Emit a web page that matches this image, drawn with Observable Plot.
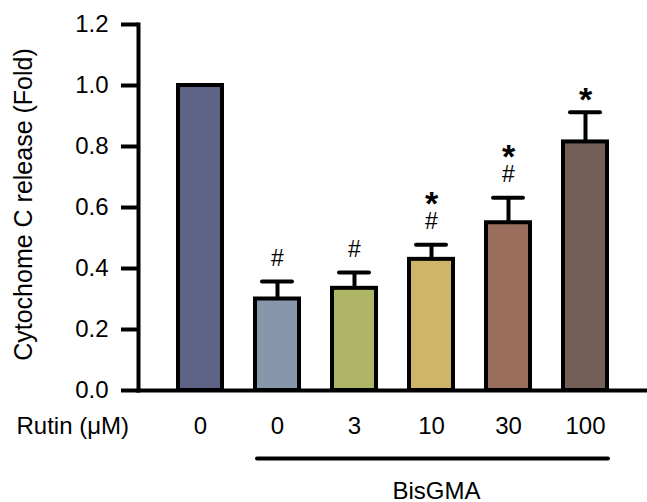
<!DOCTYPE html>
<html><head><meta charset="utf-8">
<script src="https://cdn.jsdelivr.net/npm/d3@7"></script>
<script src="https://cdn.jsdelivr.net/npm/@observablehq/plot@0.6"></script>
<style>html,body{margin:0;padding:0;background:#fff} svg{display:block}</style>
</head><body><div id="chart"></div>
<script>
const groups = ["ctrl", "b0", "b3", "b10", "b30", "b100"];
const rutinLabels = ["0", "0", "3", "10", "30", "100"];
const values = [1.0, 0.30, 0.335, 0.43, 0.55, 0.815];
const errors = [0, 0.057, 0.052, 0.048, 0.082, 0.097];
const hashMarks = ["", "#", "#", "#", "#", ""];
const starMarks = ["", "", "", "*", "*", "*"];
const colors = ["#5d6385", "#8797ab", "#afb566", "#ceb567", "#9a6d5d", "#735f57"];
const yTicks = [0, 0.2, 0.4, 0.6, 0.8, 1.0, 1.2];
const yTitle = "Cytochome C release (Fold)";
const rutinTitle = "Rutin (\u03bcM)";
const bisSpan = [{from: "b0", to: "b100", mid: "b10", label: "BisGMA"}];

const data = groups.map((g, i) => ({
  g, v: values[i], e: errors[i], top: values[i] + errors[i],
  hash: hashMarks[i], star: starMarks[i]
}));
const errData = data.filter(d => d.e > 0);
const font = "'Liberation Sans', Arial, Helvetica, sans-serif";

const chart = Plot.plot({
  width: 647, height: 502,
  marginLeft: 138, marginRight: 0, marginTop: 24, marginBottom: 112,
  style: {fontFamily: font, fontSize: "24px", background: "#fff", color: "#000", overflow: "visible"},
  x: {domain: groups, paddingInner: 0.43, paddingOuter: 0.5, axis: null},
  y: {domain: [0, 1.2], axis: null},
  color: {domain: groups, range: colors},
  marks: [
    Plot.barY(data, {x: "g", y: "v", fill: "g", stroke: "#000", strokeWidth: 4}),
    Plot.ruleX(errData, {x: "g", y1: "v", y2: "top", stroke: "#000", strokeWidth: 4}),
    Plot.tickY(errData, {x: "g", y: "top", stroke: "#000", strokeWidth: 4, strokeLinecap: "round", insetLeft: 7, insetRight: 7}),
    Plot.text(data.filter(d => d.hash), {x: "g", y: "top", text: "hash", dy: -23, fontSize: 23, fill: "#000"}),
    Plot.text(data.filter(d => d.star && d.hash), {x: "g", y: "top", text: "star", dy: -41, fontSize: 34, fontWeight: "bold", fill: "#000"}),
    Plot.text(data.filter(d => d.star && !d.hash), {x: "g", y: "top", text: "star", dy: -12, fontSize: 34, fontWeight: "bold", fill: "#000"}),
    Plot.axisY({ticks: yTicks, tickFormat: d3.format(".1f"), tickSize: 17, tickPadding: 13, strokeWidth: 4, fontSize: 24, label: null}),
    Plot.axisX({tickFormat: d => rutinLabels[groups.indexOf(d)], tickSize: 0, tickPadding: 26, fontSize: 24, label: null}),
    Plot.frame({anchor: "left", strokeWidth: 4}),
    Plot.frame({anchor: "bottom", strokeWidth: 4}),
    Plot.text([rutinTitle], {frameAnchor: "bottom-left", textAnchor: "start", lineAnchor: "top", dx: -122, dy: 26, fontSize: 24, fill: "#000"}),
    Plot.ruleY(bisSpan, {x1: "from", x2: "to", y: 0, dy: 68, insetLeft: 2, insetRight: -1, stroke: "#000", strokeWidth: 4, strokeLinecap: "round"}),
    Plot.text(bisSpan, {x: "mid", y: 0, text: "label", lineAnchor: "bottom", dx: 5, dy: 108, fontSize: 24, fill: "#000"}),
    Plot.text([yTitle], {frameAnchor: "left", textAnchor: "middle", rotate: -90, dx: -115, dy: -3, fontSize: 25, fill: "#000"})
  ]
});
document.getElementById("chart").append(chart);
</script>
</body></html>
